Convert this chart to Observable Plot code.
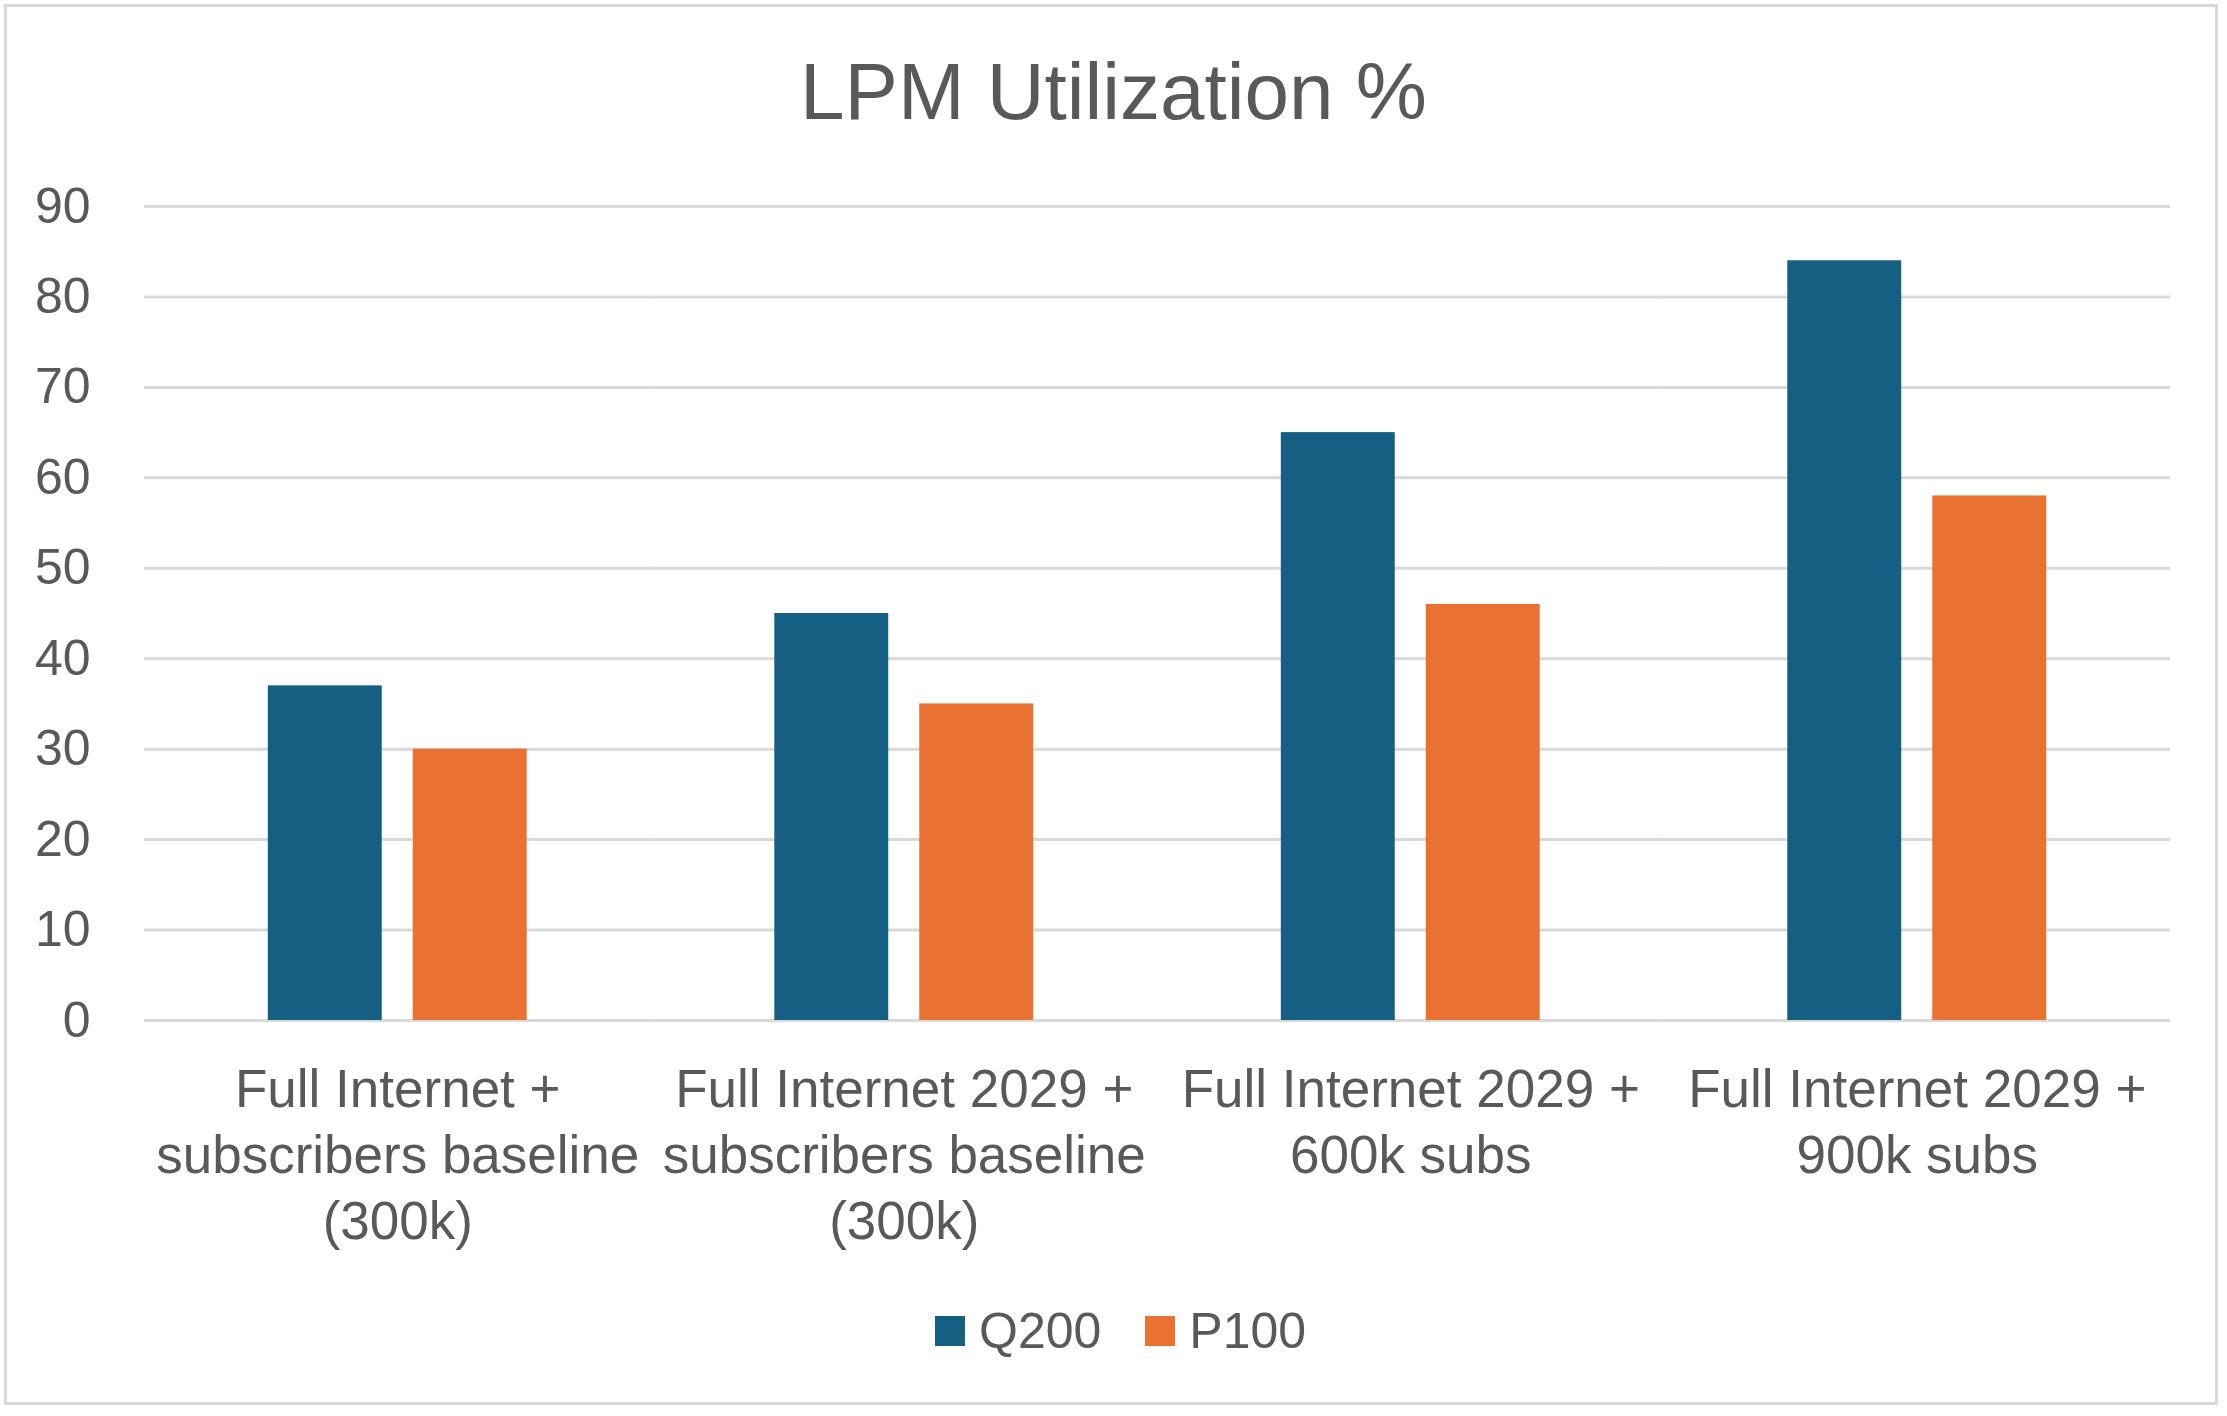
<!DOCTYPE html>
<html>
<head>
<meta charset="utf-8">
<script src="https://cdn.jsdelivr.net/npm/d3@7"></script>
<script src="https://cdn.jsdelivr.net/npm/@observablehq/plot@0.6"></script>
<style>
  html, body { margin: 0; padding: 0; background: #fff; }
  #wrap { position: relative; width: 2227px; height: 1416px; overflow: hidden; background: #fff;
          font-family: "Liberation Sans", Arial, sans-serif; color: #595959; }
  #frame { position: absolute; left: 4px; top: 4px; width: 2214px; height: 1401px;
           border: 3px solid #d9d9d9; box-sizing: border-box; }
  #title { position: absolute; left: 0; top: 52px; width: 2227px; text-align: center;
           font-size: 80px; line-height: 80px; color: #595959; }
  #chart { position: absolute; left: 0; top: 0; }
  #legend { position: absolute; left: 935px; top: 1302px; }
  .leg-swatch { margin-right: 44px !important; font-size: 50px !important; color: #595959 !important; }
  .leg-swatch > svg { margin-right: 14px !important; }
  .leg { font-family: "Liberation Sans", Arial, sans-serif !important; font-size: 50px !important; min-height: 60px !important; }
</style>
</head>
<body>
<div id="wrap">
  <div id="frame"></div>
  <div id="title"></div>
  <div id="chart"></div>
  <div id="legend"></div>
</div>
<script>
const chartTitle = "LPM Utilization %";
const categories = [
  "Full Internet + subscribers baseline (300k)",
  "Full Internet 2029 + subscribers baseline (300k)",
  "Full Internet 2029 + 600k subs",
  "Full Internet 2029 + 900k subs"
];
const categoryLabels = [
  "Full Internet +\nsubscribers baseline\n(300k)",
  "Full Internet 2029 +\nsubscribers baseline\n(300k)",
  "Full Internet 2029 +\n600k subs",
  "Full Internet 2029 +\n900k subs"
];
const series = ["Q200", "P100"];
const q200 = [37, 45, 65, 84];
const p100 = [30, 35, 46, 58];
const seriesColors = ["#156082", "#E97132"];
const yTicks = [0, 10, 20, 30, 40, 50, 60, 70, 80, 90];

const values = {Q200: q200, P100: p100};
const rows = [];
categories.forEach((c, i) => series.forEach(s => rows.push({category: c, series: s, value: values[s][i]})));

document.getElementById("title").textContent = chartTitle;

const FONT = '"Liberation Sans", Arial, sans-serif';

const plot = Plot.plot({
  width: 2227,
  height: 1416,
  marginTop: 206,
  marginBottom: 396,
  marginLeft: 144,
  marginRight: 57,
  style: {fontFamily: FONT, color: "#595959", background: "transparent", overflow: "visible"},
  fx: {domain: categories, padding: 0, round: false, label: null},
  x: {domain: series, paddingInner: 0.214, paddingOuter: 0.854, round: false, axis: null},
  y: {domain: [0, 90], label: null},
  color: {domain: series, range: seriesColors},
  marks: [
    Plot.gridY(yTicks, {stroke: "#d9d9d9", strokeOpacity: 1, strokeWidth: 3}),
    Plot.barY(rows, {fx: "category", x: "series", y: "value", fill: "series"}),
    Plot.axisY(yTicks, {tickSize: 0, tickPadding: 54, fontSize: 50, label: null, fill: "#595959"}),
    Plot.axisFx({anchor: "bottom", tickSize: 0, tickPadding: 39, fontSize: 53, lineHeight: 1.25,
                 label: null, fill: "#595959",
                 tickFormat: d => categoryLabels[categories.indexOf(d)]})
  ]
});
document.getElementById("chart").appendChild(plot);

const legend = Plot.legend({
  color: {domain: series, range: seriesColors},
  legend: "swatches",
  swatchSize: 30,
  className: "leg",
  style: {fontFamily: FONT, fontSize: "50px", color: "#595959"}
});
document.getElementById("legend").appendChild(legend);
</script>
</body>
</html>
